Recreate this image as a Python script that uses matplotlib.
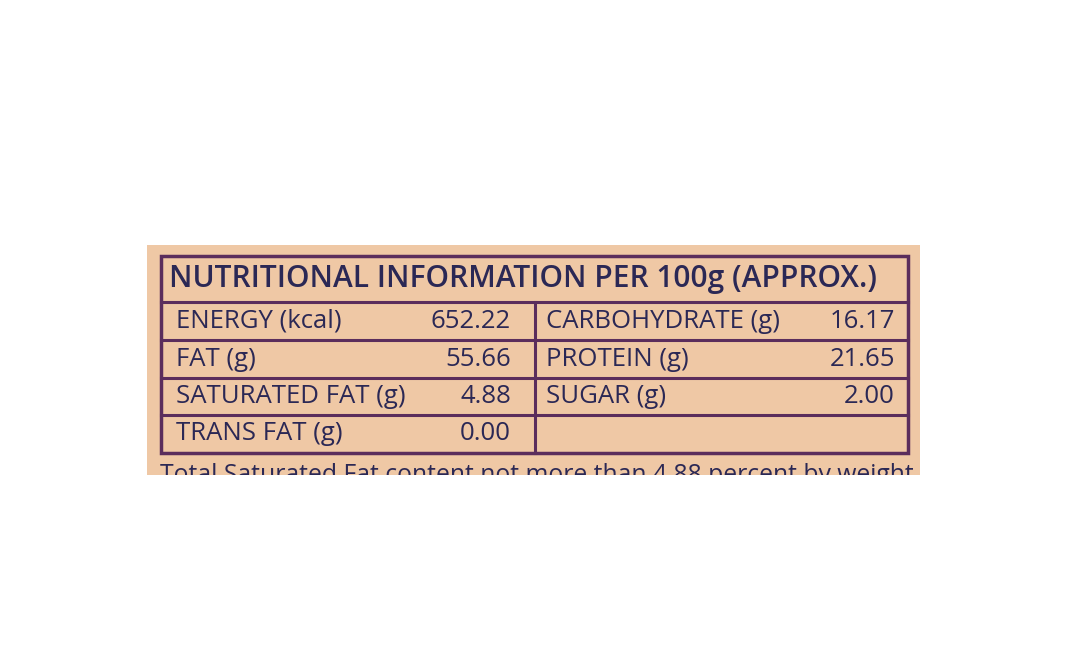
import matplotlib.pyplot as plt
from matplotlib.patches import Rectangle

title = "NUTRITIONAL INFORMATION PER 100g (APPROX.)"
left_labels = ["ENERGY (kcal)", "FAT (g)", "SATURATED FAT (g)", "TRANS FAT (g)"]
left_values = ["652.22", "55.66", "4.88", "0.00"]
right_labels = ["CARBOHYDRATE (g)", "PROTEIN (g)", "SUGAR (g)", ""]
right_values = ["16.17", "21.65", "2.00", ""]
footnote = "Total Saturated Fat content not more than 4.88 percent by weight"

BG = "#efc8a5"
INK = "#2b2855"
LINE = "#5b2d5c"

fig = plt.figure(figsize=(10.68, 6.71), dpi=100)
ax = fig.add_axes([0, 0, 1, 1])
ax.set_xlim(0, 1068)
ax.set_ylim(671, 0)
ax.axis("off")

ax.add_patch(Rectangle((147, 245), 773, 230, facecolor=BG, edgecolor="none"))

x0, x1, xm = 161, 908, 535
rows = [302, 340, 378, 415, 453]
ax.add_patch(Rectangle((x0, 256), x1 - x0, 453 - 256, fill=False, edgecolor=LINE, lw=2.5))
for y in rows[:-1]:
    ax.plot([x0, x1], [y, y], color=LINE, lw=2.2)
ax.plot([xm, xm], [302, 453], color=LINE, lw=2.2)

font = dict(family="Open Sans", color=INK, va="center")
ax.text(169, 279, title, fontsize=21.5, fontweight="semibold", **font)
for i in range(4):
    yc = (rows[i] + rows[i + 1]) / 2
    ax.text(176, yc, left_labels[i], fontsize=18.5, **font)
    ax.text(511, yc, left_values[i], fontsize=18.5, ha="right", **font)
    ax.text(546, yc, right_labels[i], fontsize=18.5, **font)
    ax.text(895, yc, right_values[i], fontsize=18.5, ha="right", **font)

ax.text(160, 476, footnote, fontsize=17.8, **font)
# the photo is cut off just below the top of the footnote
ax.add_patch(Rectangle((0, 475), 1068, 196, facecolor="white", edgecolor="none", zorder=10))

fig.savefig("out.png", dpi=100)
